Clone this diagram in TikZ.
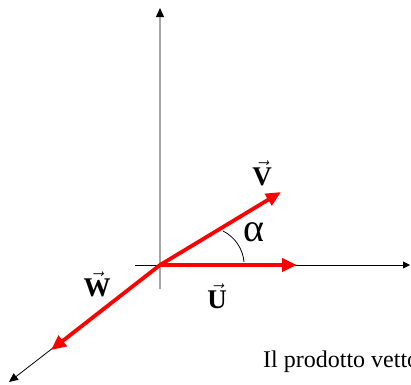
\documentclass[tikz,border=0pt]{standalone}
\usepackage{fontspec}
\setmainfont{Liberation Serif}
\usetikzlibrary{arrows.meta}
\newcommand{\vlab}[1]{$\vec{\hbox{\bfseries #1}}$}
\tikzset{
  axis/.style ={black,line width=0.8pt},
  vaxis/.style={gray!70,line width=1.4pt},
  vec/.style  ={red,line width=3.8pt,-{Triangle[length=15pt,width=13pt]}},
  lab/.style  ={font=\fontsize{27}{31}\selectfont,inner sep=0pt},
}

\begin{document}
\begin{tikzpicture}[x=1pt,y=-1pt]
  \useasboundingbox (0,0) rectangle (411,384);
  \clip (0,0) rectangle (411,384);
  \coordinate (o) at (160,265);
  \coordinate (ytop) at (160,8);
  \coordinate (ybot) at (160,289);
  \coordinate (xl) at (135,265);
  \coordinate (xr) at (410,265);
  \coordinate (zt) at (9,382);
  \coordinate (v) at (281,192);
  \coordinate (u) at (297,265);
  \coordinate (w) at (51,350);
  \coordinate (a1) at (223,231);
  \coordinate (a2) at (244,262);
  % axes
  \draw[vaxis,-{Triangle[black,length=9pt,width=8pt]}] (ybot) -- (ytop);
  \draw[axis,-{Triangle[length=7pt,width=7pt]}] (xl) -- (xr);
  \draw[axis,-{Triangle[length=9pt,width=8pt]}] (o) -- (zt);
  % vectors
  \draw[vec] (o) -- (v);
  \draw[vec] (o) -- (u);
  \draw[vec] (o) -- (w);
  \draw[line width=0.8pt] (a1) .. controls (235,237) and (243,249) .. (a2);
  \node[lab] (vl) at (262,173) {\vlab{V}};
  \node[lab] (ul) at (217,296) {\vlab{U}};
  \node[lab] (wl) at (97,284) {\vlab{W}};
  \node[lab,font=\fontsize{40}{44}\selectfont] (al) at (254,232) {α};
  \node[anchor=base west,inner sep=0pt,font=\fontsize{24}{28}\selectfont] (txt) at (263,367) {Il prodotto vetto};
\end{tikzpicture}
\end{document}
